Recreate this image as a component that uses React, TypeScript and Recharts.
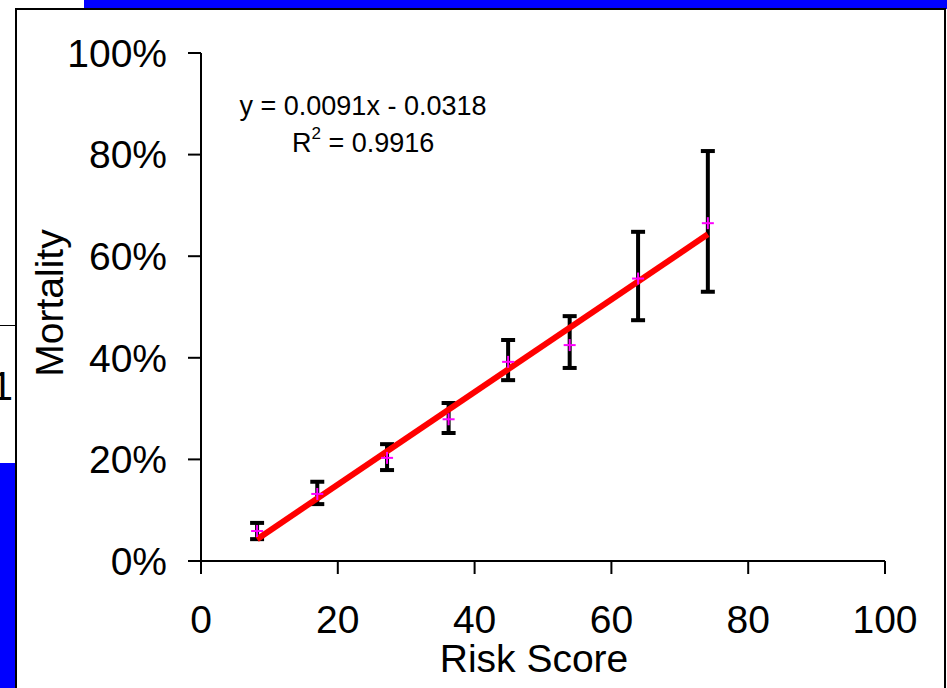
import React from 'react';
import { ComposedChart, Scatter, Line, XAxis, YAxis, ErrorBar } from 'recharts';

const riskScore = [8.2, 17.0, 27.2, 36.2, 44.9, 53.9, 63.9, 74.1];
const mortality = [0.059, 0.132, 0.203, 0.279, 0.392, 0.425, 0.556, 0.665];
const upperBound = [0.075, 0.156, 0.23, 0.311, 0.435, 0.482, 0.648, 0.807];
const lowerBound = [0.043, 0.112, 0.179, 0.252, 0.356, 0.38, 0.474, 0.53];

// Linear trend line end points
const trendX = [8.2, 74.1];
const trendY = [0.043, 0.643];

const xTicks = [0, 20, 40, 60, 80, 100];
const yTicks = [0, 0.2, 0.4, 0.6, 0.8, 1];

const equationText = 'y = 0.0091x - 0.0318';
const rSquaredText = '0.9916';

const points = riskScore.map((x, i) => ({
  x,
  y: mortality[i],
  err: [mortality[i] - lowerBound[i], upperBound[i] - mortality[i]],
}));

const trend = trendX.map((x, i) => ({ x, y: trendY[i] }));

const FONT = '"Liberation Sans", Arial, sans-serif';

const Cross = (props: any) => {
  const { cx, cy } = props;
  if (cx == null || cy == null) return null;
  return (
    <g>
      <line x1={cx - 6} y1={cy} x2={cx + 6} y2={cy} stroke="#FF00FF" strokeWidth={2} />
      <line x1={cx} y1={cy - 6} x2={cx} y2={cy + 6} stroke="#FF00FF" strokeWidth={2} />
    </g>
  );
};

export default function App() {
  return (
    <div style={{ position: 'absolute', left: 0, top: 0, width: 947, height: 688, overflow: 'hidden', background: '#fff', fontFamily: FONT }}>
      {/* background slide pieces */}
      <div style={{ position: 'absolute', left: 84, top: 0, width: 863, height: 9, background: '#0000FF' }} />
      <div style={{ position: 'absolute', left: 0, top: 463, width: 16, height: 225, background: '#0000FF' }} />
      <div style={{ position: 'absolute', left: 0, top: 325, width: 16, height: 138, borderTop: '1.5px solid #000', boxSizing: 'border-box', background: '#fff' }} />
      <svg style={{ position: 'absolute', left: 0, top: 0 }} width={20} height={688}>
        <text x={13} y={400} fontSize={40} fontFamily={FONT} textAnchor="end" fill="#000">1</text>
      </svg>
      <div style={{ position: 'absolute', left: 15, top: 8, width: 931, height: 720, border: '2px solid #000', boxSizing: 'border-box', background: '#fff' }} />

      <div style={{ position: 'absolute', left: 0, top: 0 }}>
        <ComposedChart width={947} height={688} margin={{ top: 53, right: 62, left: 101, bottom: 67 }}>
          <XAxis
            dataKey="x"
            type="number"
            domain={[0, 100]}
            ticks={xTicks}
            tickSize={13}
            tickMargin={31}
            height={60}
            stroke="#000"
            strokeWidth={2}
            tick={{ fill: '#000', fontSize: 39, fontFamily: FONT }}
          />
          <YAxis
            type="number"
            domain={[0, 1]}
            ticks={yTicks}
            tickFormatter={(v: number) => `${Math.round(v * 100)}%`}
            tickSize={13}
            tickMargin={21}
            width={100}
            stroke="#000"
            strokeWidth={2}
            tick={{ fill: '#000', fontSize: 39, fontFamily: FONT }}
          />
          <Scatter data={points} dataKey="y" shape={<Cross />} isAnimationActive={false}>
            <ErrorBar dataKey="err" direction="y" width={7} stroke="#000" strokeWidth={4} isAnimationActive={false} />
          </Scatter>
          <Line data={trend} dataKey="y" type="linear" stroke="#FF0000" strokeWidth={6} dot={false} isAnimationActive={false} />
        </ComposedChart>
      </div>

      {/* titles and trend annotation */}
      <svg style={{ position: 'absolute', left: 0, top: 0, pointerEvents: 'none' }} width={947} height={688}>
        <text x={534} y={672} fontSize={39} fontFamily={FONT} textAnchor="middle" fill="#000">Risk Score</text>
        <text x={63} y={303} fontSize={39} fontFamily={FONT} textAnchor="middle" fill="#000" transform="rotate(-90 63 303)">Mortality</text>
        <text x={363} y={115} fontSize={27} fontFamily={FONT} textAnchor="middle" fill="#000">{equationText}</text>
        <text x={292} y={152} fontSize={27} fontFamily={FONT} fill="#000">
          R<tspan fontSize={17} dy={-13}>2</tspan>
          <tspan dy={13}>{' = ' + rSquaredText}</tspan>
        </text>
      </svg>
    </div>
  );
}
